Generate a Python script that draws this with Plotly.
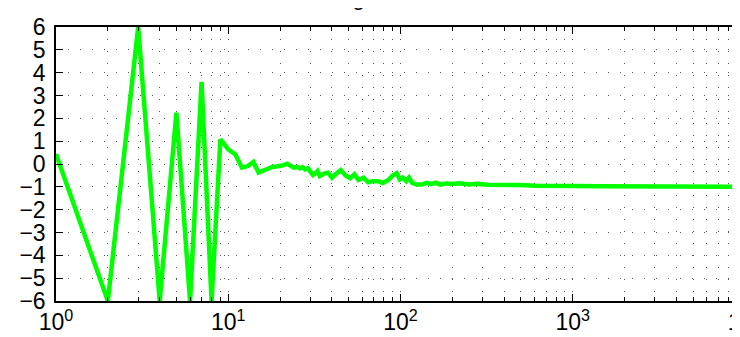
import plotly.graph_objects as go

# data
n_values = [1, 2, 3, 4, 5, 6, 7, 8, 9, 10, 11, 12, 13, 14, 15, 16, 17, 18, 19, 20,
            21, 22, 23, 24, 25, 26, 27, 28, 29, 30, 31, 32, 33, 34, 35, 36, 38, 40, 42, 45,
            48, 51, 54, 57, 61, 65, 69, 74, 79, 85, 90, 95, 99, 103, 108, 112, 117, 124, 133, 142,
            150, 160, 170, 185, 200, 220, 250, 280, 320, 370, 420, 500, 600, 700, 850, 1000,
            1500, 2000, 3000, 5000, 10000]
y_values = [0.44, -6.0, 6.0, -6.0, 2.25, -6.0, 3.6, -6.0, 1.08, 0.64, 0.42, -0.16, -0.09, 0.09, -0.38, -0.28, -0.19, -0.13, -0.11, -0.09,
            -0.05, 0.01, -0.1, -0.16, -0.13, -0.19, -0.14, -0.24, -0.19, -0.31, -0.48, -0.42, -0.31, -0.53, -0.45, -0.42, -0.38, -0.6, -0.45, -0.27,
            -0.5, -0.62, -0.45, -0.7, -0.6, -0.8, -0.75, -0.75, -0.83, -0.7, -0.5, -0.4, -0.68, -0.6, -0.75, -0.6, -0.83, -0.9, -0.9, -0.83,
            -0.88, -0.82, -0.9, -0.85, -0.88, -0.84, -0.9, -0.86, -0.91, -0.9, -0.93, -0.92, -0.95, -0.94, -0.96, -0.96,
            -0.97, -0.98, -0.99, -1.0, -1.0]

x_tickvals = [1, 10, 100, 1000, 10000]
x_ticktext = ["10<sup>0</sup>", "10<sup>1</sup>", "10<sup>2</sup>", "10<sup>3</sup>", "10<sup>4</sup>"]
x_minor = [m * d for d in [1, 10, 100, 1000] for m in range(2, 10)]
y_tickvals = list(range(-6, 7))
title_text = "Convergence"

FONT = "Liberation Sans, Arial, Helvetica, sans-serif"

fig = go.Figure()
fig.add_trace(go.Scatter(x=n_values, y=y_values, mode="lines",
                         line=dict(color="#00ff00", width=4.5), showlegend=False))

grid = dict(gridcolor="#555555", gridwidth=1, griddash="1px,11px")

fig.update_layout(
    width=740, height=337,
    margin=dict(l=48, r=3, t=19, b=44, autoexpand=False),
    paper_bgcolor="white", plot_bgcolor="white",
    font=dict(family=FONT, size=23, color="black"),
    xaxis=dict(type="log", range=[0, 4], tickmode="array", tickvals=x_tickvals,
               ticktext=x_ticktext, ticks="inside", ticklen=7, tickwidth=1,
               tickcolor="black", showline=True, linecolor="black", linewidth=1.5,
               mirror="ticks", showgrid=True, zeroline=False, automargin=False,
               ticklabeloverflow="allow",
               minor=dict(tickmode="array", tickvals=x_minor, ticks="inside",
                          ticklen=4, tickcolor="black", showgrid=True, **grid),
               **grid),
    yaxis=dict(range=[-6, 6], tickmode="array", tickvals=y_tickvals,
               ticks="inside", ticklen=7, tickwidth=1, tickcolor="black",
               showline=True, linecolor="black", linewidth=1.5, mirror="ticks",
               showgrid=True, zeroline=False, automargin=False,
               ticklabelstandoff=4, **grid),
    annotations=[dict(text=title_text, xref="paper", yref="paper", x=0.422,
                      y=1.055, xanchor="center", yanchor="bottom", showarrow=False,
                      font=dict(family=FONT, size=23, color="black"))],
)

fig.write_html("out.html")
